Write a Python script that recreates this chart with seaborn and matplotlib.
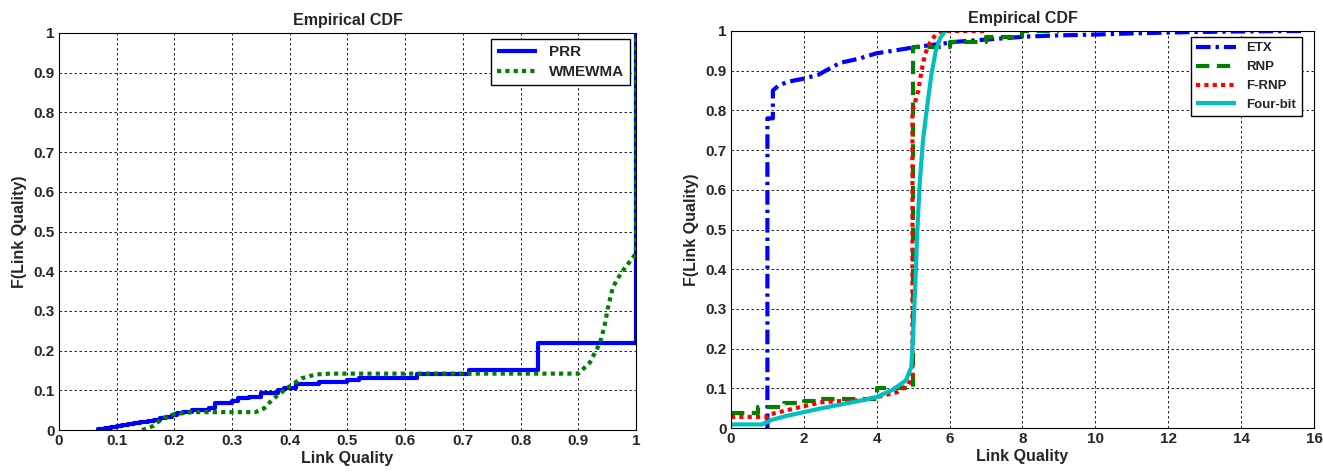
import matplotlib
matplotlib.use('Agg')
import matplotlib.pyplot as plt
import pandas as pd
import seaborn as sns

# left panel: PRR (step) and WMEWMA (smooth)
prr_x = [0.068, 0.068, 0.08, 0.09, 0.10, 0.11, 0.12, 0.13, 0.14, 0.155, 0.165, 0.175, 0.185, 0.195, 0.205,
         0.215, 0.23, 0.26, 0.27, 0.30, 0.31, 0.33, 0.35, 0.38, 0.39, 0.41, 0.45, 0.50, 0.52, 0.62, 0.71,
         0.83, 1.0]
prr_y = [0.0, 0.002, 0.004, 0.007, 0.010, 0.012, 0.015, 0.017, 0.019, 0.022, 0.026, 0.030, 0.034, 0.038,
         0.042, 0.045, 0.050, 0.055, 0.067, 0.072, 0.080, 0.083, 0.093, 0.100, 0.105, 0.115, 0.122, 0.125,
         0.130, 0.140, 0.150, 0.218, 1.0]

wmewma_x = [0.144, 0.163, 0.18, 0.20, 0.23, 0.34, 0.355, 0.37, 0.39, 0.405, 0.42, 0.445, 0.47, 0.90,
            0.92, 0.938, 0.946, 0.951, 0.96, 0.974, 0.985, 0.996, 1.0, 1.0]
wmewma_y = [0.0, 0.01, 0.03, 0.04, 0.045, 0.045, 0.054, 0.077, 0.10, 0.115, 0.13, 0.14, 0.142, 0.142,
            0.17, 0.22, 0.266, 0.305, 0.36, 0.395, 0.416, 0.437, 0.445, 1.0]

# right panel: ETX, RNP (step), F-RNP, Four-bit
etx_x = [1.0, 1.0, 1.15, 1.15, 1.3, 1.55, 2.0, 2.4, 2.6, 3.0, 3.5, 4.0, 4.5, 5.1, 5.7, 6.2, 7.1, 8.1,
         9.0, 10.0, 11.0, 12.5, 14.0, 15.7]
etx_y = [0.0, 0.78, 0.78, 0.85, 0.862, 0.872, 0.88, 0.89, 0.90, 0.92, 0.93, 0.944, 0.951, 0.96, 0.967,
         0.973, 0.979, 0.986, 0.989, 0.991, 0.994, 0.997, 0.999, 1.0]

rnp_x = [0.0, 0.75, 1.45, 2.0, 2.4, 4.0, 5.0, 6.0, 7.0, 8.0, 9.0]
rnp_y = [0.037, 0.052, 0.062, 0.069, 0.073, 0.102, 0.96, 0.973, 0.984, 1.0, 1.0]

frnp_x = [0.0, 0.7, 1.0, 1.1, 1.55, 2.0, 2.5, 3.0, 3.6, 4.05, 4.55, 4.87, 4.98, 4.98, 5.05, 5.14, 5.23,
          5.33, 5.47, 5.57, 5.7, 5.85, 7.0]
frnp_y = [0.028, 0.028, 0.028, 0.035, 0.045, 0.055, 0.065, 0.068, 0.07, 0.079, 0.09, 0.11, 0.13, 0.80,
          0.82, 0.85, 0.90, 0.943, 0.972, 0.985, 0.997, 1.0, 1.0]

fourbit_x = [0.0, 0.85, 1.1, 1.5, 2.0, 2.5, 3.0, 3.5, 4.0, 4.45, 4.8, 4.95, 5.0, 5.06, 5.11, 5.18, 5.27,
             5.37, 5.5, 5.62, 5.74, 5.88]
fourbit_y = [0.009, 0.009, 0.02, 0.03, 0.04, 0.05, 0.059, 0.068, 0.078, 0.097, 0.12, 0.154, 0.238, 0.364,
             0.49, 0.616, 0.725, 0.8, 0.89, 0.95, 0.982, 1.0]

left_ticks = [0, 0.1, 0.2, 0.3, 0.4, 0.5, 0.6, 0.7, 0.8, 0.9, 1]
left_labels = ['0', '0.1', '0.2', '0.3', '0.4', '0.5', '0.6', '0.7', '0.8', '0.9', '1']
right_xticks = [0, 2, 4, 6, 8, 10, 12, 14, 16]


def style_axes(ax, xticks, xlabels, xmax):
    ax.set_xlim(0, xmax)
    ax.set_ylim(0, 1)
    ax.set_xticks(xticks)
    ax.set_xticklabels(xlabels)
    ax.set_yticks(left_ticks)
    ax.set_yticklabels(left_labels)
    ax.grid(True, color='black', linestyle=(0, (3, 3)), linewidth=0.6)
    ax.tick_params(direction='in', length=3, width=0.8, labelsize=11, pad=3)
    for lab in ax.get_xticklabels() + ax.get_yticklabels():
        lab.set_fontweight('bold')
    for s in ax.spines.values():
        s.set_visible(True)
        s.set_color('black')
        s.set_linewidth(0.8)
    ax.set_title('Empirical CDF', fontsize=11.5, fontweight='bold', pad=6)
    ax.set_xlabel('Link Quality', fontsize=11.5, fontweight='bold', labelpad=2)
    ax.set_ylabel('F(Link Quality)', fontsize=11.5, fontweight='bold', labelpad=5)


def main():
    sns.set_style('white')
    plt.rcParams['font.family'] = ['Liberation Sans', 'DejaVu Sans']
    plt.rcParams['lines.solid_capstyle'] = 'butt'
    plt.rcParams['lines.dash_capstyle'] = 'butt'

    fig = plt.figure(figsize=(13.23, 4.74), dpi=100)
    ax1 = fig.add_axes([0.0446, 0.0928, 0.4361, 0.8376])
    ax2 = fig.add_axes([0.5525, 0.0970, 0.4407, 0.8376])

    # left
    sns.lineplot(x=prr_x, y=prr_y, ax=ax1, estimator=None, color='#0000FF', linewidth=3,
                 drawstyle='steps-post', label='PRR')
    sns.lineplot(x=wmewma_x, y=wmewma_y, ax=ax1, estimator=None, color='#008000', linewidth=3,
                 dashes=False, label='WMEWMA')
    ax1.lines[1].set_dashes((1, 1))
    style_axes(ax1, left_ticks, left_labels, 1)
    leg1 = ax1.legend(loc='upper right', bbox_to_anchor=(0.99, 0.985), borderaxespad=0, fancybox=False,
                      edgecolor='black', framealpha=1, handlelength=2.6, labelspacing=0.4,
                      prop={'weight': 'bold', 'size': 11})
    leg1.get_frame().set_linewidth(1.0)

    # right
    sns.lineplot(x=etx_x, y=etx_y, ax=ax2, estimator=None, color='#0000FF', linewidth=3, label='ETX')
    sns.lineplot(x=rnp_x, y=rnp_y, ax=ax2, estimator=None, color='#008000', linewidth=3,
                 drawstyle='steps-post', label='RNP')
    sns.lineplot(x=frnp_x, y=frnp_y, ax=ax2, estimator=None, color='#FF0000', linewidth=3, label='F-RNP')
    sns.lineplot(x=fourbit_x, y=fourbit_y, ax=ax2, estimator=None, color='#00BFBF', linewidth=3,
                 label='Four-bit')
    ax2.lines[0].set_dashes((3.5, 1.2, 0.8, 1.2))
    ax2.lines[1].set_dashes((3.2, 1.8))
    ax2.lines[2].set_dashes((1, 1))
    style_axes(ax2, right_xticks, [str(t) for t in right_xticks], 16)
    leg2 = ax2.legend(loc='upper right', bbox_to_anchor=(0.979, 0.985), borderaxespad=0, fancybox=False,
                      edgecolor='black', framealpha=1, handlelength=3.0, labelspacing=0.5,
                      prop={'weight': 'bold', 'size': 9.5})
    leg2.get_frame().set_linewidth(1.0)

    fig.savefig('out.png', dpi=100)


if __name__ == '__main__':
    main()
